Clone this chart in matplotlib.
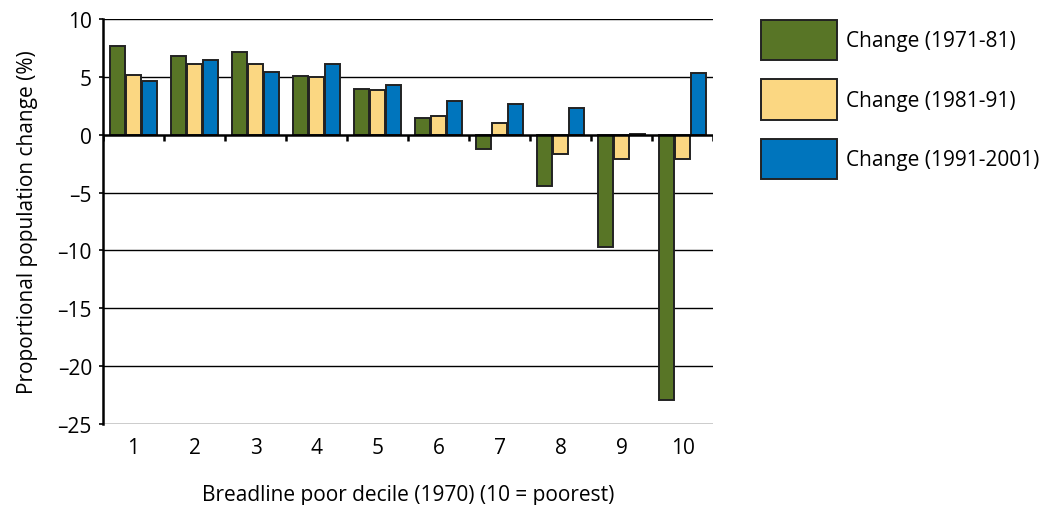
import matplotlib
matplotlib.use("Agg")
import matplotlib.pyplot as plt
import numpy as np

deciles = ["1", "2", "3", "4", "5", "6", "7", "8", "9", "10"]
change_1971_81 = [7.67, 6.83, 7.15, 5.10, 3.95, 1.47, -1.23, -4.40, -9.74, -22.9]
change_1981_91 = [5.19, 6.08, 6.08, 4.96, 3.83, 1.64, 1.04, -1.67, -2.13, -2.07]
change_1991_2001 = [4.61, 6.43, 5.42, 6.14, 4.27, 2.91, 2.68, 2.31, 0.02, 5.34]
series_labels = ["Change (1971-81)", "Change (1981-91)", "Change (1991-2001)"]
series_colors = ["#587526", "#fbd782", "#0075bd"]
yticks = [10, 5, 0, -5, -10, -15, -20, -25]
ytick_labels = ["10", "5", "0", "\u20135", "\u201310", "\u201315", "\u201320", "\u201325"]

plt.rcParams['font.family'] = ['Open Sans', 'DejaVu Sans']
FS = 15

fig = plt.figure(figsize=(10.45, 5.06), dpi=100)
ax = fig.add_axes([0.0986, 0.160, 0.5837, 0.8005])

x = np.arange(1, len(deciles) + 1)
width = 0.25
offset = 0.265
series = [change_1971_81, change_1981_91, change_1991_2001]
for i, (vals, lab, col) in enumerate(zip(series, series_labels, series_colors)):
    ax.bar(x + (i - 1) * offset, vals, width, color=col, edgecolor="#222222",
           linewidth=1.4, label=lab, zorder=3)

ax.set_xlim(0.5, 10.5)
ax.set_ylim(-25, 10)

# gridlines
for yv in yticks:
    if yv != 0:
        ax.axhline(yv, color="black", linewidth=1.0, zorder=1)
ax.axhline(0, color="black", linewidth=1.8, zorder=4)

# ticks along zero line at group boundaries
for b in np.arange(0.5, 11, 1.0):
    ax.plot([b, b], [0, -0.55], color="black", linewidth=1.8, zorder=4,
            solid_capstyle="butt")

for s in ["top", "right", "bottom"]:
    ax.spines[s].set_visible(False)
ax.spines["left"].set_linewidth(1.8)

ax.set_yticks(yticks)
ax.set_yticklabels(ytick_labels, fontsize=FS)
ax.tick_params(axis="y", length=3, width=1.2, pad=5)
ax.set_xticks(x)
ax.set_xticklabels(deciles, fontsize=FS)
ax.tick_params(axis="x", length=0, pad=9)

ax.set_ylabel("Proportional population change (%)", fontsize=FS, labelpad=14)
ax.set_xlabel("Breadline poor decile (1970) (10 = poorest)", fontsize=FS, labelpad=19)

leg = ax.legend(loc="upper left", bbox_to_anchor=(761 / 1045, 1 - 21 / 506),
                bbox_transform=fig.transFigure, frameon=False, fontsize=FS,
                handlelength=3.65, handleheight=2.6, labelspacing=0.91,
                handletextpad=0.43, borderpad=0, borderaxespad=0)

fig.savefig("out.png", dpi=100)
